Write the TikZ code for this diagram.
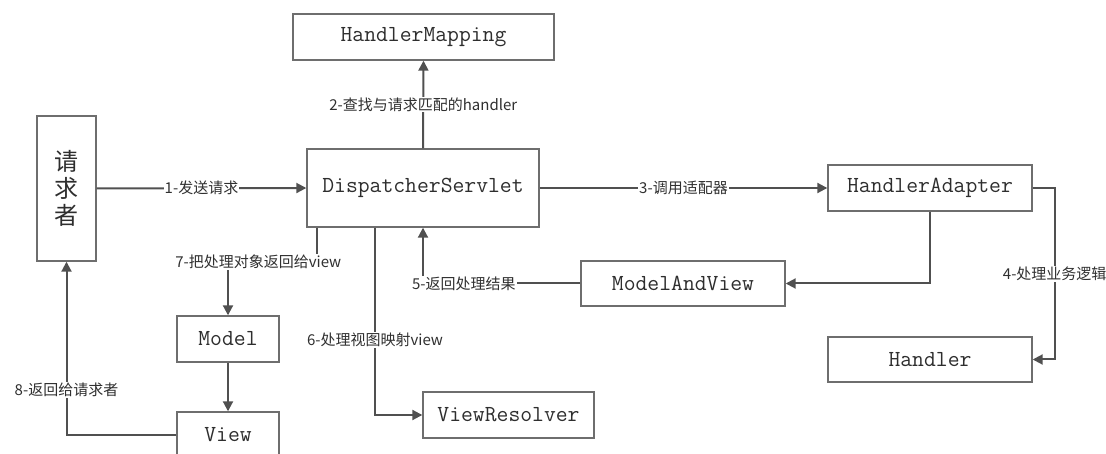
\documentclass[tikz,border=0pt]{standalone}
\usepackage{fontspec}
\newfontfamily\cjk{Noto Sans CJK SC}
\usetikzlibrary{arrows.meta,calc}
\definecolor{edgecol}{HTML}{505050}
\definecolor{framecol}{HTML}{6E6E6E}
\definecolor{textcol}{HTML}{2E2E2E}
\definecolor{lblcol}{HTML}{303030}
\tikzset{
  box/.style={draw=framecol, line width=1.4pt, fill=white, text=textcol,
    font=\fontsize{23}{26}\selectfont\ttfamily, inner sep=0pt},
  flow/.style={draw=edgecol, line width=2pt,
    -{Triangle[length=10pt,width=10pt]}},
  lbl/.style={fill=white, text=lblcol, inner sep=1pt,
    font=\fontsize{15}{17}\selectfont\cjk}
}
\begin{document}
\begin{tikzpicture}[x=1pt,y=-1pt]
\useasboundingbox (0,0) rectangle (1106,454);
\clip (0,0) rectangle (1106,454);
\fill[white] (0,0) rectangle (1106,454);

% components
\node[box, minimum width=59pt, minimum height=145pt, align=center,
      font=\fontsize{24}{27}\selectfont\cjk] (req) at (66.5,188.5) {请\\求\\者};
\node[box, minimum width=261pt, minimum height=46pt] (hm)  at (423.5,37)  {HandlerMapping};
\node[box, minimum width=232pt, minimum height=78pt] (ds)  at (423,188)   {DispatcherServlet};
\node[box, minimum width=204pt, minimum height=46pt] (ha)  at (930,188)   {HandlerAdapter};
\node[box, minimum width=204pt, minimum height=45pt] (mav) at (683,283.5) {ModelAndView};
\node[box, minimum width=204pt, minimum height=45pt] (hd)  at (930,359.5) {Handler};
\node[box, minimum width=102pt, minimum height=46pt] (md)  at (228,339)   {Model};
\node[box, minimum width=102pt, minimum height=46pt] (vw)  at (228,435)   {View};
\node[box, minimum width=171pt, minimum height=46pt] (vr)  at (508.5,415) {ViewResolver};

% exits on the lower side of the dispatcher
\coordinate (s7) at ($(ds.south)+(-106,0)$);
\coordinate (s6) at ($(ds.south)+(-48,0)$);
\coordinate (c4) at ($(ha.east)+(22,0)$);

% request flow
\draw[flow] (req.east) -- node[lbl]{1-发送请求} (ds.west);
\draw[flow] (ds.north) -- node[lbl]{2-查找与请求匹配的handler} (hm.south);
\draw[flow] (ds.east) -- node[lbl]{3-调用适配器} (ha.west);
\draw[flow] (ha.east) -- (c4) |- node[lbl,pos=0.25]{4-处理业务逻辑} (hd.east);
\draw[flow] (ha.south) |- (mav.east);
\draw[flow] (mav.west) -| node[lbl,pos=0.37]{5-返回处理结果} (ds.south);
\draw[flow] (s6) |- node[lbl,pos=0.3]{6-处理视图映射view} (vr.west);
\draw[flow] (s7) -- ++(0,34) -| node[lbl,pos=0.33]{7-把处理对象返回给view} (md.north);
\draw[flow] (md.south) -- (vw.north);
\draw[flow] (vw.west) -| node[lbl,pos=0.63]{8-返回给请求者} (req.south);
\end{tikzpicture}
\end{document}
